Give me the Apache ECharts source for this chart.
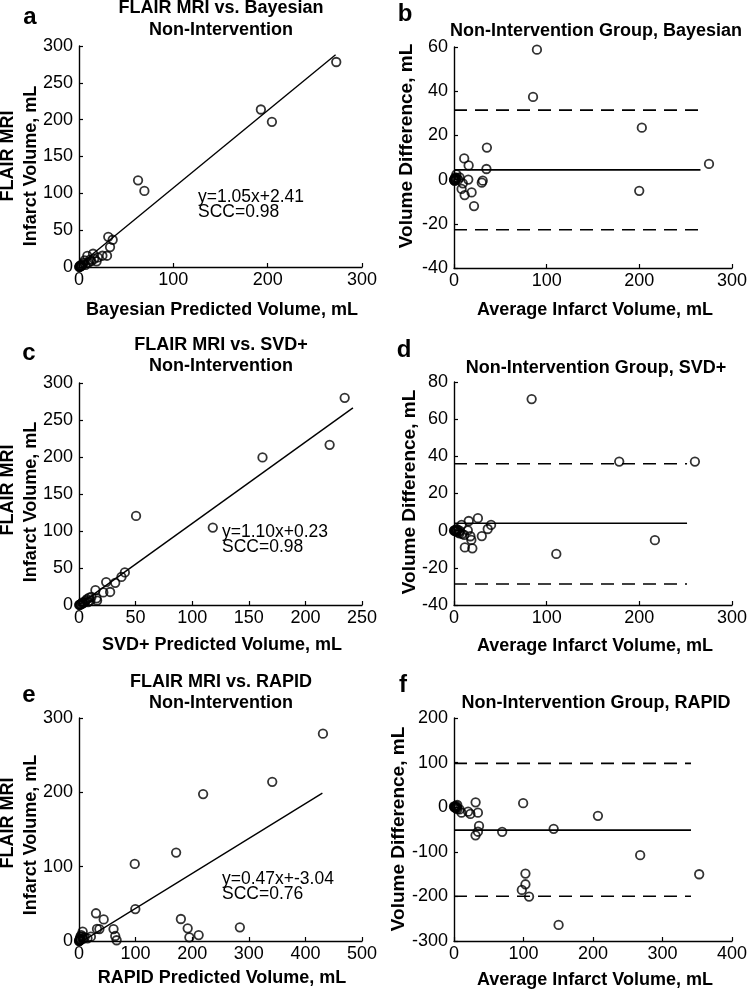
<!DOCTYPE html>
<html><head><meta charset="utf-8">
<script src="https://cdn.jsdelivr.net/npm/echarts@6.0.0/dist/echarts.min.js"></script>
<style>html,body{margin:0;padding:0;background:#fff}#c{width:750px;height:993px}</style>
</head><body><div id="c"></div>
<script>
// ---------- DATA ----------
// Panel a: Bayesian predicted (x) vs FLAIR MRI (y)
const bayesVsFlair = [[272.7,278.3],[192.8,213.8],[204.5,197.1],[62.6,117.7],[69.3,103.3],[31,41],[35.7,37],[32.9,27],[29.7,15.3],[24.8,15.3],[14.9,18],[8.8,15],[18.7,7.7],[11.7,10],[20,13],[16,11],[6,9],[5,6],[4,4],[7,3],[3,2],[2,1.5],[1.5,1],[1,0.5],[0.5,0.3],[0.2,0.1],[10,6],[13,8],[2.5,3],[1,2]];
const bayesFit = {slope:1.05, intercept:2.41, xFrom:0, xTo:272};
// Panel b: Bland-Altman, Bayesian
const bayesBA = [[89.5,58.8],[85.3,37.4],[202.7,23.5],[275.2,7.1],[199.9,-5.1],[35.5,14.5],[35,4.8],[11,9.6],[15.8,6.4],[30,-1.4],[31,-0.5],[15.4,0],[8.2,-4.2],[11.5,-7],[19,-5.8],[21.6,-12],[2.6,2.4],[4.6,0],[0,0],[0.5,0],[1,0.3],[1.5,-0.2],[2,0.5],[0.3,-0.3],[6,1],[3,0.8],[1.2,1],[0.8,-0.6],[9.5,-1.7]];
const bayesBAstats = {mean:4.4, upper:31.4, lower:-22.7, xTo:266};
// Panel c: SVD+ predicted (x) vs FLAIR MRI (y)
const svdVsFlair = [[234.7,280],[221.4,216.5],[162.1,199.4],[50.4,120.4],[118.2,104.6],[40.5,44],[37.5,38],[32,30],[24,31],[27.5,17.6],[21.5,17],[14.5,20],[15.5,9],[16,6],[11,11],[9,10],[7,8],[6,6],[8,4],[5,4],[4,3],[3,2],[2,1.5],[1.5,1],[1,0.5],[0.5,0.3],[0.2,0.1],[10,6],[3,3.5]];
const svdFit = {slope:1.10, intercept:0.23, xFrom:0, xTo:242};
// Panel d: Bland-Altman, SVD+
const svdBA = [[83.8,70.8],[178.3,37.2],[260,37.2],[110.4,-12.5],[216.8,-5.1],[40,3.1],[36.4,0.9],[30,-2.9],[25.8,6.7],[15.9,5.2],[14.9,0.2],[18.7,-5],[17.7,-3],[11.7,-9],[19.8,-9.5],[8.2,3.1],[6.4,-0.1],[8.8,-1.7],[11,-2.3],[5,-1],[4,0.5],[3,-0.5],[2,0.2],[1,0],[0.5,0.1],[0,0],[1.5,-0.3],[2.5,0.8],[6,-1.5]];
const svdBAstats = {mean:4.0, upper:36, lower:-28.7, xTo:251.5};
// Panel e: RAPID predicted (x) vs FLAIR MRI (y)
const rapidVsFlair = [[431,278.9],[341.4,214.2],[219.3,197.6],[171.6,119],[98.5,103.7],[99.5,43],[30,37.3],[43.6,29],[31.8,16.2],[36,16],[61,16],[64,6.7],[66.5,1],[180,29.6],[192,17.1],[195,5],[211.4,8],[284.2,18.4],[6.5,12.6],[1.8,3.6],[6,6],[15,3.6],[21,5.8],[10,5],[3,2],[2,1],[1,0.5],[0.5,0.2],[0,0],[4,8],[7,3],[2.5,6],[1,2]];
const rapidFit = {slope:0.47, intercept:-3.04, xFrom:0, xTo:430};
// Panel f: Bland-Altman, RAPID
const rapidBA = [[352.8,-150.3],[267.9,-107.6],[207.1,-19.3],[150.5,-264],[143.4,-48.5],[99.5,9.1],[102.8,-148.8],[102.8,-172.8],[97.6,-185.5],[108,-200.4],[69.3,-55.2],[36,-42],[34.4,-55],[31,-63],[31.1,10.9],[34.4,-12.3],[23.6,-15],[20.3,-10],[10.8,-12.3],[4.7,4.9],[2.8,-2],[0,1.6],[1,0],[2,2],[4,-1],[3,3],[1.5,-1],[0.5,0.5],[5,-4],[8,-5]];
const rapidBAstats = {mean:-51.5, upper:98.2, lower:-199.7, xTo:341};

// axis ranges [min, max, interval]
const axX = [[0,300,100],[0,300,100],[0,250,50],[0,300,100],[0,500,100],[0,400,100]];
const axY = [[0,300,50],[-40,60,20],[0,300,50],[-40,80,20],[0,300,100],[-300,200,100]];

// ---------- CHART ----------
const FONT = '"Liberation Sans", Arial, Helvetica, sans-serif';
const grids = [
  {left:79, top:46, width:283, height:221},
  {left:454, top:47, width:283, height:221},
  {left:79, top:383, width:283, height:222},
  {left:454, top:382, width:283, height:223},
  {left:79, top:718, width:283, height:223},
  {left:454, top:718, width:283, height:223}
];
const axisCommon = {
  axisLine:{show:true, onZero:false, lineStyle:{color:'#000', width:1.4}},
  axisTick:{show:true, inside:true, length:4, lineStyle:{color:'#000', width:1.2}},
  splitLine:{show:false}
};
const xAxes = axX.map((a,i)=>Object.assign({}, axisCommon, {
  type:'value', gridIndex:i, min:a[0], max:a[1], interval:a[2],
  axisLabel:{color:'#000', fontSize:18, fontFamily:FONT, margin:4}
}));
const yAxes = axY.map((a,i)=>Object.assign({}, axisCommon, {
  type:'value', gridIndex:i, min:a[0], max:a[1], interval:a[2],
  axisLabel:{color:'#000', fontSize:18, fontFamily:FONT, margin:6}
}));

function scatter(data, i){
  return {type:'scatter', xAxisIndex:i, yAxisIndex:i, data:data, symbol:'circle', symbolSize:8.5,
    itemStyle:{color:'rgba(255,255,255,0)', borderColor:'#000', borderWidth:1.8}, z:3};
}
function fitLine(f, i){
  return {type:'line', xAxisIndex:i, yAxisIndex:i, symbol:'none', clip:true,
    data:[[f.xFrom, f.slope*f.xFrom+f.intercept],[f.xTo, f.slope*f.xTo+f.intercept]],
    lineStyle:{color:'#000', width:1.4}, z:2};
}
function hLine(v, xTo, i, dashed){
  return {type:'line', xAxisIndex:i, yAxisIndex:i, symbol:'none',
    data:[[0,v],[xTo,v]], lineStyle:{color:'#000', width:1.7, type: dashed ? [13,8] : 'solid'}, z:2};
}
function baLines(s, i){
  return [hLine(s.mean, s.xTo, i, false), hLine(s.upper, s.xTo, i, true), hLine(s.lower, s.xTo, i, true)];
}

const series = [
  scatter(bayesVsFlair,0), fitLine(bayesFit,0),
  scatter(bayesBA,1), ...baLines(bayesBAstats,1),
  scatter(svdVsFlair,2), fitLine(svdFit,2),
  scatter(svdBA,3), ...baLines(svdBAstats,3),
  scatter(rapidVsFlair,4), fitLine(rapidFit,4),
  scatter(rapidBA,5), ...baLines(rapidBAstats,5)
];

function txt(text, x, y, opt){
  opt = opt || {};
  return {type:'text', x:x, y:y, rotation:opt.rot||0, silent:true,
    style:{text:text, fill:'#000', fontSize:opt.size||18, fontWeight:opt.bold===false?'normal':'bold',
      fontFamily:FONT, align:opt.align||'center', verticalAlign:'middle'}};
}
const R = Math.PI/2;
const graphics = [
  // panel letters
  txt('a',30,17,{size:24}), txt('b',405,14,{size:24}),
  txt('c',29,353,{size:24}), txt('d',404,350,{size:24}),
  txt('e',29,695,{size:24}), txt('f',403,685,{size:24}),
  // titles
  txt('FLAIR MRI vs. Bayesian',221,8), txt('Non-Intervention',221,30),
  txt('Non-Intervention Group, Bayesian',596,31),
  txt('FLAIR MRI vs. SVD+',221,345), txt('Non-Intervention',221,366),
  txt('Non-Intervention Group, SVD+',596,368),
  txt('FLAIR MRI vs. RAPID',221,682), txt('Non-Intervention',221,703),
  txt('Non-Intervention Group, RAPID',596,703),
  // x-axis names
  txt('Bayesian Predicted Volume, mL',222,310),
  txt('Average Infarct Volume, mL',595,310),
  txt('SVD+ Predicted Volume, mL',222,645),
  txt('Average Infarct Volume, mL',595,646),
  txt('RAPID Predicted Volume, mL',222,978),
  txt('Average Infarct Volume, mL',595,980),
  // y-axis names
  txt('FLAIR MRI',8,156,{rot:R}), txt('Infarct Volume, mL',31,166,{rot:R}),
  txt('FLAIR MRI',8,490,{rot:R}), txt('Infarct Volume, mL',31,502,{rot:R}),
  txt('FLAIR MRI',8,823,{rot:R}), txt('Infarct Volume, mL',31,835,{rot:R}),
  txt('Volume Difference, mL',407,146,{rot:R, size:19}),
  txt('Volume Difference, mL',410,492,{rot:R, size:19}),
  txt('Volume Difference, mL',399,829,{rot:R, size:19}),
  // annotations
  txt('y=1.05x+2.41',198,197,{bold:false,size:17.5,align:'left'}), txt('SCC=0.98',198,212,{bold:false,size:17.5,align:'left'}),
  txt('y=1.10x+0.23',222,532,{bold:false,size:17.5,align:'left'}), txt('SCC=0.98',222,547,{bold:false,size:17.5,align:'left'}),
  txt('y=0.47x+-3.04',222,879,{bold:false,size:17.5,align:'left'}), txt('SCC=0.76',222,894,{bold:false,size:17.5,align:'left'})
];

const chart = echarts.init(document.getElementById('c'), null, {renderer:'canvas'});
chart.setOption({
  animation:false, backgroundColor:'#fff',
  grid:grids, xAxis:xAxes, yAxis:yAxes, series:series, graphic:graphics
});
</script>
</body></html>
